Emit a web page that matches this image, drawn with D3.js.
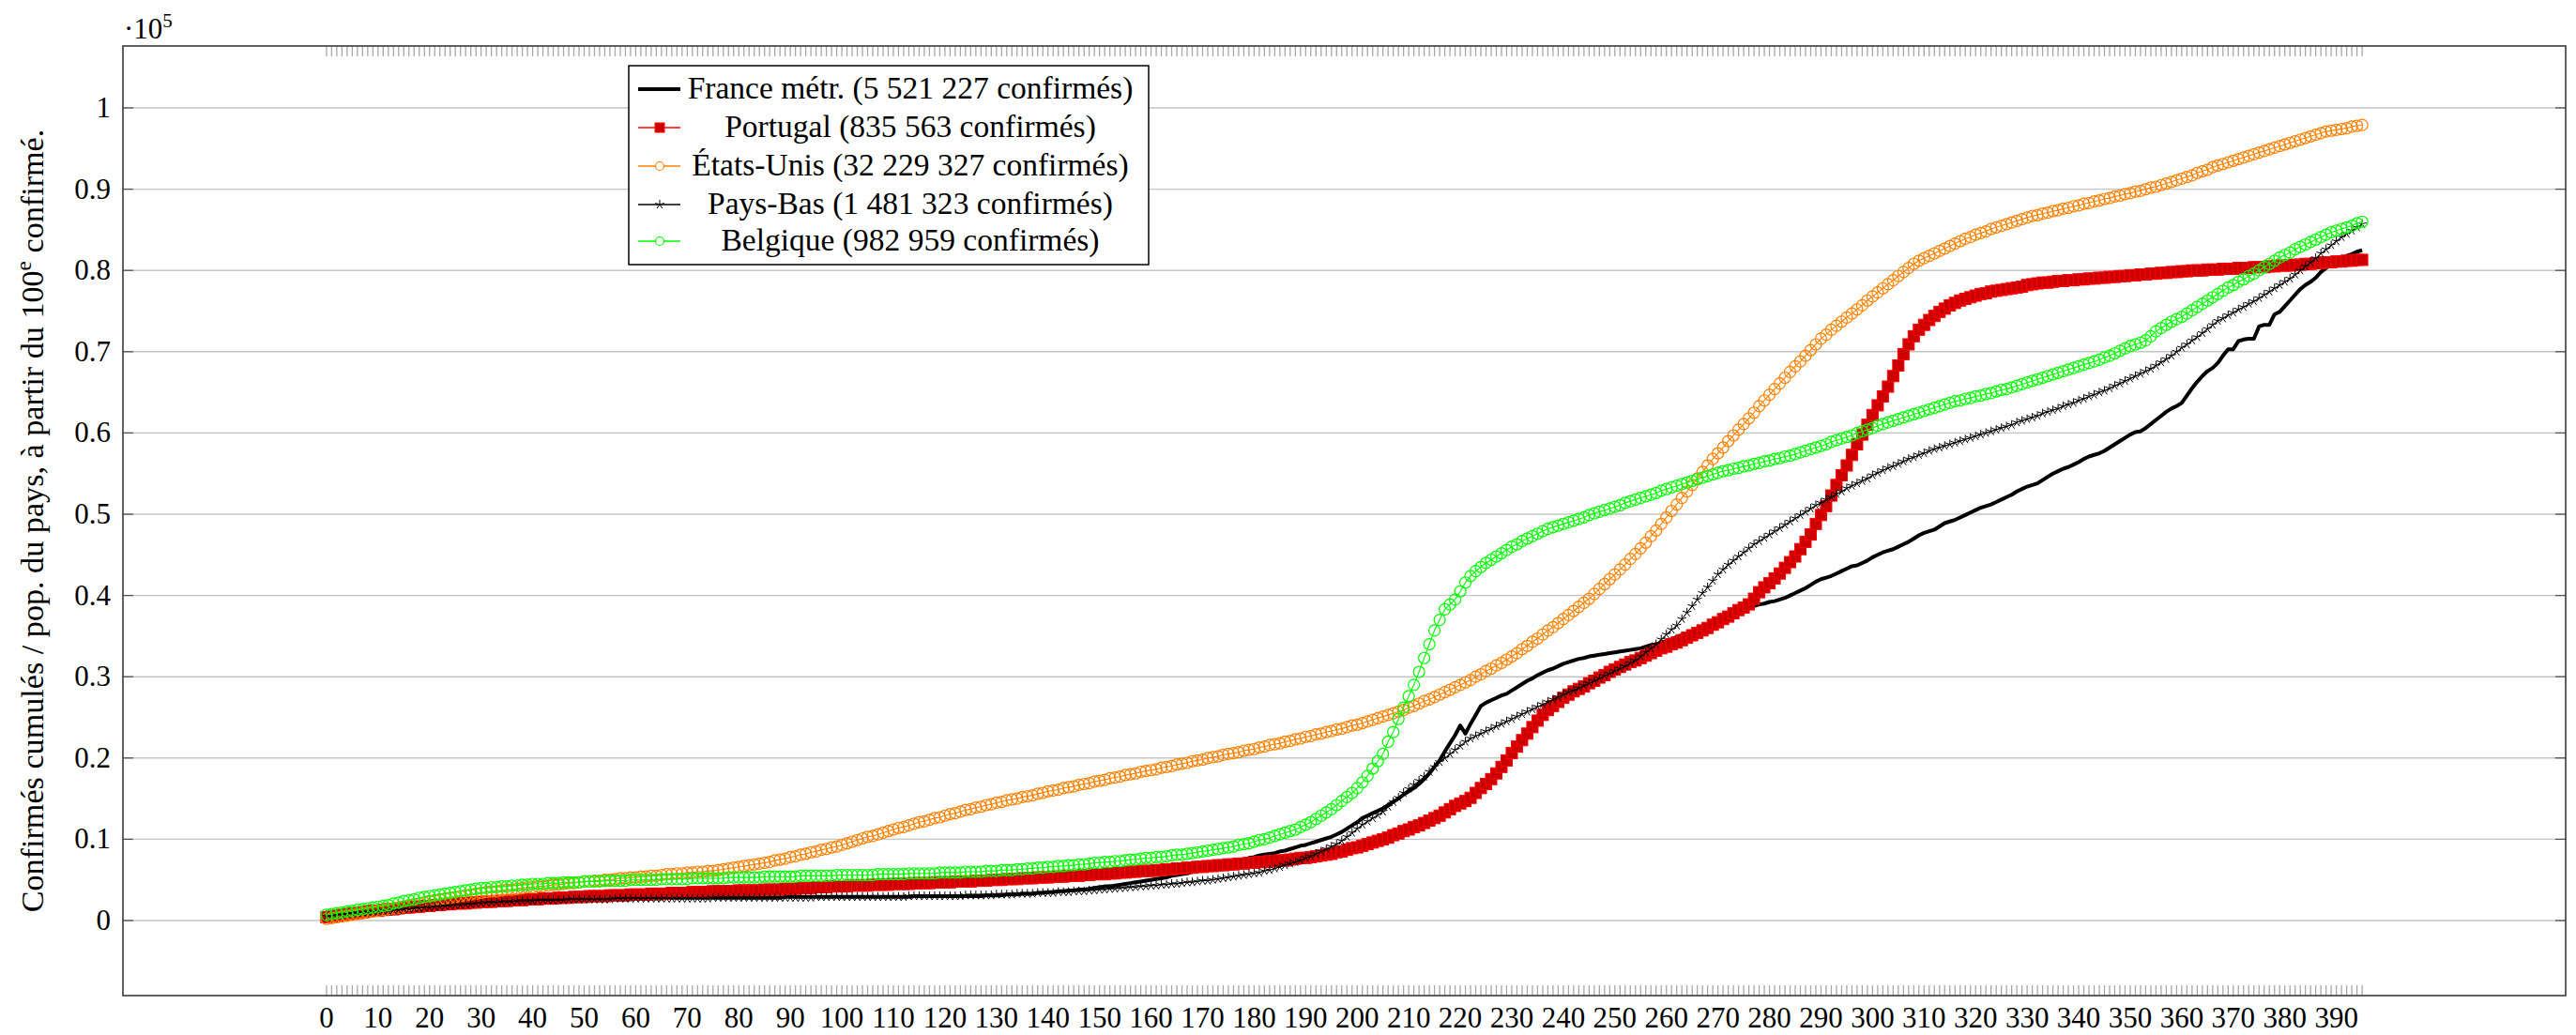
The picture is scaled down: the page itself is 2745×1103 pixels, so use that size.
<!DOCTYPE html>
<html>
<head>
<meta charset="utf-8">
<script src="https://cdn.jsdelivr.net/npm/d3@7"></script>
<style>
  html, body { margin: 0; padding: 0; background: #fff; }
  svg { display: block; }
  text { font-family: "Liberation Serif", "DejaVu Serif", serif; fill: #000; }
</style>
</head>
<body>
<svg id="chart" width="2745" height="1103"></svg>
<script>
// ---------------- DATA (values in units of 1e5, day index = array position) ----------------
const seriesNames = [
  "France métr. (5 521 227 confirmés)",
  "Portugal (835 563 confirmés)",
  "États-Unis (32 229 327 confirmés)",
  "Pays-Bas (1 481 323 confirmés)",
  "Belgique (982 959 confirmés)"
];

const xTickLabels = [0,10,20,30,40,50,60,70,80,90,100,110,120,130,140,150,160,170,180,190,200,210,220,230,240,250,260,270,280,290,300,310,320,330,340,350,360,370,380,390];
const yTickLabels = [0,0.1,0.2,0.3,0.4,0.5,0.6,0.7,0.8,0.9,1];

const france = [
0.004,0.004,0.005,0.005,0.006,0.006,0.006,0.007,0.007,0.007,
0.008,0.008,0.008,0.009,0.009,0.012,0.013,0.014,0.015,0.016,
0.017,0.017,0.018,0.018,0.019,0.019,0.020,0.020,0.021,0.021,
0.022,0.022,0.022,0.023,0.023,0.023,0.024,0.024,0.024,0.024,
0.024,0.025,0.025,0.025,0.025,0.025,0.025,0.026,0.026,0.026,
0.026,0.026,0.026,0.026,0.026,0.027,0.027,0.027,0.027,0.027,
0.027,0.027,0.027,0.027,0.027,0.027,0.028,0.028,0.028,0.028,
0.028,0.028,0.028,0.028,0.028,0.028,0.028,0.028,0.028,0.028,
0.028,0.028,0.028,0.028,0.028,0.028,0.028,0.028,0.028,0.029,
0.029,0.029,0.029,0.029,0.029,0.029,0.029,0.029,0.029,0.029,
0.029,0.029,0.029,0.029,0.029,0.029,0.029,0.029,0.029,0.029,
0.029,0.029,0.029,0.029,0.030,0.030,0.030,0.030,0.030,0.030,
0.030,0.030,0.030,0.030,0.030,0.030,0.030,0.030,0.031,0.031,
0.031,0.031,0.032,0.032,0.032,0.033,0.033,0.033,0.034,0.034,
0.035,0.035,0.036,0.036,0.037,0.037,0.038,0.038,0.039,0.040,
0.041,0.042,0.042,0.043,0.044,0.045,0.046,0.047,0.048,0.049,
0.050,0.051,0.052,0.053,0.055,0.056,0.057,0.058,0.060,0.061,
0.062,0.064,0.066,0.067,0.069,0.071,0.072,0.074,0.075,0.077,
0.078,0.080,0.081,0.082,0.083,0.085,0.086,0.088,0.090,0.092,
0.093,0.095,0.097,0.099,0.101,0.103,0.106,0.109,0.113,0.117,
0.121,0.126,0.129,0.132,0.135,0.138,0.142,0.146,0.150,0.155,
0.159,0.163,0.168,0.174,0.181,0.189,0.197,0.208,0.218,0.228,
0.240,0.230,0.242,0.253,0.264,0.268,0.271,0.274,0.277,0.279,
0.283,0.287,0.291,0.295,0.298,0.302,0.305,0.308,0.310,0.313,
0.316,0.318,0.320,0.322,0.323,0.325,0.326,0.327,0.328,0.329,
0.330,0.331,0.332,0.333,0.334,0.335,0.337,0.339,0.340,0.342,
0.344,0.346,0.349,0.351,0.353,0.355,0.356,0.358,0.360,0.363,
0.365,0.368,0.371,0.374,0.377,0.380,0.384,0.387,0.389,0.390,
0.392,0.393,0.395,0.397,0.400,0.403,0.406,0.409,0.413,0.417,
0.420,0.422,0.424,0.427,0.430,0.433,0.436,0.437,0.440,0.443,
0.447,0.450,0.453,0.455,0.457,0.460,0.463,0.466,0.470,0.474,
0.477,0.479,0.481,0.485,0.489,0.491,0.493,0.496,0.499,0.502,
0.505,0.508,0.510,0.512,0.515,0.518,0.521,0.524,0.528,0.531,
0.534,0.536,0.538,0.542,0.546,0.550,0.553,0.556,0.558,0.561,
0.564,0.568,0.571,0.573,0.575,0.578,0.582,0.586,0.590,0.594,
0.598,0.601,0.602,0.606,0.611,0.616,0.621,0.626,0.630,0.633,
0.637,0.646,0.655,0.663,0.670,0.676,0.680,0.686,0.695,0.703,
0.703,0.713,0.715,0.716,0.716,0.731,0.733,0.733,0.746,0.749,
0.756,0.763,0.770,0.777,0.782,0.786,0.791,0.798,0.803,0.808,
0.811,0.814,0.818,0.820,0.823,0.825
];

const portugal = [
0.004,0.005,0.006,0.007,0.008,0.009,0.009,0.010,0.011,0.012,
0.012,0.013,0.014,0.014,0.015,0.016,0.016,0.017,0.017,0.018,
0.018,0.019,0.019,0.020,0.020,0.021,0.021,0.021,0.022,0.022,
0.023,0.023,0.023,0.024,0.024,0.024,0.025,0.025,0.025,0.026,
0.026,0.026,0.027,0.027,0.027,0.028,0.028,0.028,0.029,0.029,
0.029,0.030,0.030,0.030,0.030,0.031,0.031,0.031,0.031,0.032,
0.032,0.032,0.032,0.033,0.033,0.033,0.033,0.034,0.034,0.034,
0.034,0.035,0.035,0.035,0.035,0.036,0.036,0.036,0.036,0.036,
0.037,0.037,0.037,0.037,0.037,0.038,0.038,0.038,0.038,0.039,
0.039,0.039,0.040,0.040,0.040,0.041,0.041,0.041,0.042,0.042,
0.042,0.042,0.043,0.043,0.043,0.043,0.044,0.044,0.044,0.044,
0.045,0.045,0.045,0.045,0.046,0.046,0.046,0.046,0.047,0.047,
0.047,0.047,0.048,0.048,0.048,0.048,0.049,0.049,0.049,0.050,
0.050,0.050,0.051,0.051,0.051,0.052,0.052,0.052,0.053,0.053,
0.053,0.054,0.054,0.054,0.055,0.055,0.055,0.056,0.056,0.057,
0.057,0.057,0.058,0.058,0.059,0.059,0.060,0.060,0.061,0.061,
0.061,0.062,0.062,0.063,0.063,0.064,0.064,0.065,0.065,0.066,
0.066,0.067,0.067,0.068,0.068,0.069,0.069,0.070,0.070,0.071,
0.071,0.072,0.072,0.073,0.073,0.074,0.074,0.075,0.076,0.077,
0.077,0.078,0.079,0.080,0.081,0.082,0.084,0.085,0.087,0.089,
0.090,0.092,0.094,0.096,0.098,0.100,0.102,0.105,0.107,0.110,
0.112,0.115,0.117,0.120,0.123,0.126,0.129,0.133,0.137,0.141,
0.144,0.147,0.151,0.157,0.163,0.168,0.174,0.181,0.189,0.197,
0.206,0.214,0.222,0.230,0.238,0.246,0.253,0.259,0.264,0.269,
0.274,0.278,0.282,0.285,0.288,0.292,0.295,0.299,0.302,0.306,
0.309,0.312,0.315,0.318,0.320,0.323,0.326,0.329,0.332,0.335,
0.337,0.340,0.342,0.345,0.348,0.351,0.354,0.357,0.360,0.364,
0.367,0.371,0.374,0.378,0.382,0.385,0.389,0.396,0.404,0.410,
0.415,0.421,0.427,0.434,0.441,0.448,0.457,0.466,0.475,0.488,
0.499,0.510,0.523,0.536,0.548,0.560,0.573,0.586,0.598,0.610,
0.622,0.634,0.645,0.657,0.670,0.683,0.697,0.709,0.719,0.727,
0.733,0.739,0.744,0.749,0.753,0.757,0.760,0.763,0.765,0.767,
0.769,0.771,0.772,0.774,0.775,0.776,0.777,0.778,0.779,0.780,
0.782,0.783,0.784,0.785,0.785,0.786,0.787,0.787,0.788,0.788,
0.789,0.789,0.790,0.790,0.791,0.791,0.792,0.792,0.793,0.793,
0.794,0.794,0.795,0.795,0.796,0.796,0.797,0.797,0.798,0.798,
0.799,0.799,0.800,0.800,0.800,0.801,0.801,0.801,0.802,0.802,
0.802,0.803,0.803,0.803,0.804,0.804,0.804,0.805,0.805,0.806,
0.806,0.806,0.807,0.807,0.808,0.808,0.809,0.809,0.810,0.810,
0.811,0.811,0.812,0.812,0.813,0.813
];

const etatsUnis = [
0.002,0.003,0.004,0.005,0.006,0.007,0.008,0.009,0.010,0.011,
0.012,0.013,0.014,0.015,0.016,0.017,0.019,0.020,0.021,0.022,
0.024,0.025,0.026,0.027,0.028,0.029,0.030,0.031,0.032,0.033,
0.034,0.035,0.036,0.036,0.037,0.038,0.038,0.039,0.040,0.041,
0.041,0.042,0.042,0.043,0.044,0.044,0.045,0.046,0.046,0.047,
0.048,0.048,0.049,0.049,0.050,0.050,0.051,0.052,0.052,0.053,
0.053,0.054,0.054,0.055,0.055,0.056,0.057,0.057,0.058,0.058,
0.059,0.059,0.060,0.060,0.061,0.061,0.062,0.063,0.064,0.065,
0.066,0.067,0.068,0.069,0.070,0.071,0.072,0.074,0.075,0.076,
0.078,0.079,0.081,0.082,0.084,0.085,0.087,0.088,0.090,0.091,
0.093,0.095,0.097,0.099,0.101,0.103,0.104,0.106,0.108,0.110,
0.112,0.114,0.115,0.117,0.119,0.121,0.122,0.124,0.126,0.127,
0.129,0.131,0.132,0.134,0.136,0.137,0.139,0.140,0.142,0.143,
0.145,0.146,0.148,0.149,0.150,0.152,0.153,0.154,0.156,0.157,
0.159,0.160,0.161,0.163,0.164,0.165,0.167,0.168,0.169,0.171,
0.172,0.173,0.175,0.176,0.177,0.179,0.180,0.181,0.183,0.184,
0.185,0.186,0.188,0.189,0.190,0.192,0.193,0.194,0.196,0.197,
0.198,0.200,0.201,0.202,0.204,0.205,0.206,0.207,0.209,0.210,
0.211,0.213,0.214,0.216,0.217,0.218,0.220,0.221,0.223,0.224,
0.226,0.227,0.229,0.230,0.232,0.233,0.235,0.236,0.238,0.240,
0.241,0.243,0.245,0.247,0.249,0.251,0.253,0.255,0.257,0.259,
0.262,0.264,0.267,0.270,0.272,0.275,0.278,0.281,0.284,0.287,
0.290,0.293,0.296,0.300,0.303,0.307,0.310,0.314,0.317,0.321,
0.325,0.329,0.334,0.338,0.343,0.347,0.352,0.357,0.361,0.366,
0.371,0.376,0.381,0.386,0.391,0.396,0.402,0.408,0.414,0.420,
0.426,0.432,0.438,0.445,0.451,0.458,0.465,0.473,0.480,0.488,
0.496,0.504,0.512,0.520,0.528,0.536,0.544,0.552,0.560,0.568,
0.575,0.582,0.590,0.597,0.604,0.611,0.618,0.625,0.633,0.640,
0.647,0.654,0.661,0.668,0.675,0.682,0.688,0.695,0.702,0.709,
0.716,0.721,0.727,0.732,0.737,0.742,0.747,0.752,0.757,0.763,
0.768,0.773,0.778,0.783,0.788,0.793,0.798,0.803,0.808,0.812,
0.815,0.818,0.821,0.824,0.827,0.830,0.833,0.836,0.839,0.841,
0.844,0.846,0.848,0.851,0.853,0.855,0.857,0.859,0.861,0.863,
0.865,0.867,0.868,0.870,0.871,0.873,0.874,0.876,0.877,0.879,
0.880,0.882,0.883,0.885,0.886,0.888,0.889,0.891,0.892,0.894,
0.895,0.897,0.898,0.900,0.902,0.903,0.905,0.907,0.909,0.911,
0.913,0.915,0.917,0.920,0.922,0.924,0.927,0.929,0.931,0.933,
0.935,0.937,0.939,0.941,0.943,0.945,0.947,0.949,0.951,0.953,
0.955,0.957,0.959,0.961,0.963,0.965,0.967,0.969,0.971,0.972,
0.973,0.974,0.975,0.977,0.978,0.979
];

const paysBas = [
0.005,0.006,0.007,0.007,0.008,0.009,0.009,0.010,0.010,0.011,
0.011,0.012,0.012,0.013,0.013,0.014,0.014,0.015,0.015,0.016,
0.016,0.017,0.017,0.018,0.018,0.019,0.019,0.020,0.020,0.021,
0.021,0.022,0.022,0.022,0.023,0.023,0.023,0.024,0.024,0.024,
0.024,0.025,0.025,0.025,0.025,0.025,0.025,0.026,0.026,0.026,
0.026,0.026,0.026,0.026,0.026,0.026,0.027,0.027,0.027,0.027,
0.027,0.027,0.027,0.027,0.027,0.027,0.027,0.027,0.027,0.027,
0.027,0.027,0.027,0.027,0.027,0.028,0.028,0.028,0.028,0.028,
0.028,0.028,0.028,0.028,0.028,0.028,0.028,0.028,0.028,0.028,
0.028,0.028,0.028,0.028,0.028,0.029,0.029,0.029,0.029,0.029,
0.029,0.029,0.029,0.029,0.029,0.029,0.029,0.029,0.029,0.029,
0.029,0.029,0.029,0.030,0.030,0.030,0.030,0.030,0.030,0.030,
0.030,0.030,0.030,0.030,0.031,0.031,0.031,0.031,0.031,0.031,
0.032,0.032,0.032,0.032,0.033,0.033,0.033,0.033,0.034,0.034,
0.034,0.034,0.035,0.035,0.035,0.036,0.036,0.036,0.037,0.037,
0.038,0.038,0.039,0.039,0.040,0.040,0.041,0.041,0.042,0.042,
0.043,0.043,0.044,0.044,0.045,0.045,0.046,0.047,0.047,0.048,
0.049,0.049,0.050,0.051,0.052,0.053,0.054,0.055,0.056,0.057,
0.058,0.059,0.061,0.062,0.064,0.066,0.068,0.070,0.072,0.074,
0.077,0.079,0.082,0.085,0.088,0.091,0.094,0.098,0.103,0.108,
0.113,0.118,0.122,0.126,0.130,0.134,0.140,0.146,0.151,0.157,
0.162,0.167,0.172,0.177,0.183,0.189,0.195,0.200,0.205,0.210,
0.215,0.220,0.224,0.227,0.230,0.233,0.236,0.239,0.242,0.245,
0.248,0.251,0.254,0.257,0.260,0.263,0.266,0.269,0.272,0.275,
0.278,0.281,0.283,0.286,0.289,0.292,0.295,0.298,0.301,0.304,
0.307,0.310,0.313,0.317,0.320,0.325,0.330,0.335,0.340,0.346,
0.352,0.358,0.363,0.371,0.379,0.387,0.395,0.403,0.410,0.418,
0.426,0.432,0.438,0.443,0.448,0.453,0.458,0.463,0.467,0.471,
0.475,0.479,0.483,0.487,0.491,0.495,0.499,0.503,0.507,0.511,
0.514,0.518,0.521,0.525,0.528,0.532,0.535,0.538,0.541,0.544,
0.548,0.551,0.554,0.557,0.559,0.562,0.565,0.568,0.570,0.573,
0.575,0.578,0.580,0.582,0.584,0.586,0.588,0.590,0.592,0.594,
0.596,0.598,0.600,0.602,0.604,0.606,0.608,0.610,0.613,0.615,
0.617,0.619,0.621,0.624,0.626,0.628,0.630,0.633,0.635,0.637,
0.640,0.642,0.645,0.647,0.650,0.652,0.655,0.658,0.661,0.664,
0.667,0.670,0.673,0.676,0.679,0.683,0.687,0.691,0.695,0.700,
0.705,0.709,0.714,0.718,0.723,0.728,0.733,0.738,0.741,0.745,
0.748,0.752,0.755,0.759,0.762,0.766,0.770,0.774,0.778,0.782,
0.786,0.790,0.795,0.800,0.805,0.810,0.815,0.821,0.826,0.831,
0.836,0.841,0.845,0.849,0.853,0.857
];

const belgique = [
0.007,0.008,0.009,0.010,0.011,0.012,0.013,0.014,0.015,0.016,
0.017,0.018,0.019,0.021,0.022,0.024,0.025,0.026,0.028,0.029,
0.030,0.031,0.032,0.033,0.034,0.035,0.036,0.037,0.038,0.039,
0.040,0.040,0.041,0.041,0.042,0.042,0.043,0.043,0.044,0.044,
0.045,0.045,0.045,0.046,0.046,0.046,0.047,0.047,0.047,0.047,
0.048,0.048,0.048,0.048,0.049,0.049,0.049,0.049,0.049,0.050,
0.050,0.050,0.050,0.050,0.050,0.051,0.051,0.051,0.051,0.051,
0.051,0.052,0.052,0.052,0.052,0.052,0.052,0.052,0.053,0.053,
0.053,0.053,0.053,0.053,0.053,0.054,0.054,0.054,0.054,0.054,
0.054,0.054,0.055,0.055,0.055,0.055,0.055,0.055,0.055,0.056,
0.056,0.056,0.056,0.056,0.056,0.056,0.056,0.057,0.057,0.057,
0.057,0.057,0.057,0.058,0.058,0.058,0.058,0.058,0.058,0.059,
0.059,0.059,0.059,0.059,0.060,0.060,0.060,0.060,0.061,0.061,
0.061,0.062,0.062,0.062,0.063,0.063,0.064,0.064,0.065,0.065,
0.066,0.066,0.067,0.067,0.068,0.068,0.069,0.069,0.070,0.071,
0.071,0.072,0.072,0.073,0.073,0.074,0.075,0.075,0.076,0.077,
0.077,0.078,0.078,0.079,0.080,0.081,0.081,0.082,0.083,0.084,
0.085,0.086,0.087,0.088,0.089,0.090,0.091,0.093,0.094,0.095,
0.097,0.099,0.100,0.102,0.104,0.106,0.108,0.110,0.112,0.115,
0.118,0.121,0.125,0.129,0.133,0.137,0.142,0.147,0.152,0.157,
0.163,0.170,0.178,0.187,0.196,0.205,0.220,0.232,0.248,0.262,
0.276,0.290,0.306,0.323,0.340,0.357,0.370,0.383,0.389,0.395,
0.405,0.416,0.424,0.430,0.435,0.440,0.444,0.448,0.452,0.456,
0.460,0.463,0.467,0.470,0.473,0.476,0.479,0.482,0.484,0.486,
0.488,0.490,0.492,0.494,0.496,0.499,0.501,0.503,0.505,0.507,
0.509,0.511,0.514,0.516,0.518,0.520,0.522,0.524,0.526,0.529,
0.531,0.533,0.535,0.537,0.539,0.541,0.543,0.545,0.547,0.549,
0.551,0.553,0.554,0.556,0.557,0.559,0.560,0.562,0.563,0.565,
0.566,0.568,0.569,0.571,0.572,0.574,0.576,0.578,0.580,0.582,
0.584,0.586,0.589,0.591,0.593,0.595,0.597,0.600,0.602,0.604,
0.606,0.609,0.611,0.613,0.615,0.617,0.619,0.621,0.623,0.625,
0.627,0.629,0.631,0.633,0.635,0.637,0.639,0.640,0.642,0.643,
0.645,0.646,0.648,0.649,0.651,0.653,0.654,0.656,0.658,0.660,
0.662,0.664,0.666,0.668,0.670,0.672,0.674,0.676,0.678,0.680,
0.682,0.684,0.686,0.688,0.690,0.693,0.695,0.698,0.701,0.704,
0.707,0.709,0.711,0.714,0.719,0.725,0.729,0.733,0.737,0.740,
0.743,0.747,0.751,0.755,0.759,0.763,0.767,0.771,0.775,0.779,
0.782,0.786,0.789,0.793,0.796,0.800,0.804,0.808,0.812,0.816,
0.819,0.822,0.826,0.829,0.832,0.835,0.838,0.841,0.844,0.847,
0.849,0.851,0.853,0.855,0.858,0.860
];

// ---------------- LAYOUT ----------------
const W = 2745, H = 1103;
const plot = { left: 131, right: 2734, top: 49, bottom: 1061 };
const nDays = etatsUnis.length;

const x = d3.scaleLinear().domain([-39.5, (nDays - 1) + 39.5]).range([plot.left, plot.right]);
const y = d3.scaleLinear().domain([-0.0924, 1.0762]).range([plot.bottom, plot.top]);

const svg = d3.select("#chart");
svg.append("rect").attr("width", W).attr("height", H).attr("fill", "#fff");

// Grid
const gGrid = svg.append("g");
gGrid.selectAll("line").data(yTickLabels).join("line")
  .attr("x1", plot.left).attr("x2", plot.right)
  .attr("y1", d => y(d)).attr("y2", d => y(d))
  .attr("stroke", "#c4c4c4").attr("stroke-width", 1.4);

// minor x ticks (every day) top and bottom
const dayIdx = d3.range(nDays);
const gTicks = svg.append("g").attr("stroke", "#a8a8a8").attr("stroke-width", 1.3);
gTicks.selectAll("line.b").data(dayIdx).join("line").attr("class", "b")
  .attr("x1", d => x(d)).attr("x2", d => x(d))
  .attr("y1", plot.bottom).attr("y2", plot.bottom - 11);
gTicks.selectAll("line.t").data(dayIdx).join("line").attr("class", "t")
  .attr("x1", d => x(d)).attr("x2", d => x(d))
  .attr("y1", plot.top).attr("y2", plot.top + 11);

// y ticks left/right
const gYT = svg.append("g").attr("stroke", "#555").attr("stroke-width", 1.3);
gYT.selectAll("line.l").data(yTickLabels).join("line").attr("class", "l")
  .attr("x1", plot.left).attr("x2", plot.left + 11)
  .attr("y1", d => y(d)).attr("y2", d => y(d));
gYT.selectAll("line.r").data(yTickLabels).join("line").attr("class", "r")
  .attr("x1", plot.right).attr("x2", plot.right - 11)
  .attr("y1", d => y(d)).attr("y2", d => y(d));

// Series
const seriesData = [france, portugal, etatsUnis, paysBas, belgique];
const styles = [
  { color: "#000", width: 4, mark: "none" },
  { color: "#ff0000", width: 1.3, mark: "square", fill: "#cc0000" },
  { color: "#ff8000", width: 1.1, mark: "circle" },
  { color: "#000", width: 1.0, mark: "star" },
  { color: "#00ff00", width: 1.1, mark: "circle" }
];

const line = d3.line().x((d, i) => x(i)).y(d => y(d));
const starPath = (r) => {
  let p = "";
  for (let k = 0; k < 5; k++) {
    const a = -Math.PI / 2 + k * 2 * Math.PI / 5;
    p += `M0,0L${(r * Math.cos(a)).toFixed(2)},${(r * Math.sin(a)).toFixed(2)}`;
  }
  return p;
};

const SQ = 12, CR = 6;
function drawMarks(g, data, st) {
  if (st.mark === "square") {
    g.selectAll("rect").data(data).join("rect")
      .attr("x", (d, i) => x(i) - SQ / 2).attr("y", d => y(d) - SQ / 2)
      .attr("width", SQ).attr("height", SQ)
      .attr("fill", st.fill).attr("stroke", st.color).attr("stroke-width", 1);
  } else if (st.mark === "circle") {
    g.selectAll("circle").data(data).join("circle")
      .attr("cx", (d, i) => x(i)).attr("cy", d => y(d)).attr("r", CR)
      .attr("fill", "none").attr("stroke", st.color).attr("stroke-width", 1.2);
  } else if (st.mark === "star") {
    g.selectAll("path").data(data).join("path")
      .attr("transform", (d, i) => `translate(${x(i)},${y(d)})`)
      .attr("d", starPath(5))
      .attr("fill", "none").attr("stroke", st.color).attr("stroke-width", 1);
  }
}

seriesData.forEach((data, k) => {
  const st = styles[k];
  const g = svg.append("g");
  g.append("path").datum(data).attr("d", line)
    .attr("fill", "none").attr("stroke", st.color).attr("stroke-width", st.width)
    .attr("stroke-linejoin", "round");
  const gm = g.append("g");
  drawMarks(gm, data, st);
});

// Frame
svg.append("rect")
  .attr("x", plot.left).attr("y", plot.top)
  .attr("width", plot.right - plot.left).attr("height", plot.bottom - plot.top)
  .attr("fill", "none").attr("stroke", "#3a3a3a").attr("stroke-width", 1.6);

// Tick labels
const fs = 31;
svg.append("g").selectAll("text").data(yTickLabels).join("text")
  .attr("x", 118).attr("y", d => y(d) + 10)
  .attr("text-anchor", "end").attr("font-size", fs)
  .text(d => d === 0 ? "0" : d === 1 ? "1" : d.toFixed(1));

svg.append("g").selectAll("text").data(xTickLabels).join("text")
  .attr("x", d => x(d)).attr("y", 1095)
  .attr("text-anchor", "middle").attr("font-size", fs)
  .text(d => d);

// ·10^5
const sc = svg.append("text").attr("x", 132).attr("y", 41).attr("font-size", fs);
sc.append("tspan").text("·10");
sc.append("tspan").attr("font-size", 21).attr("dy", -12).text("5");

// Y label
const yl = svg.append("text")
  .attr("transform", `translate(46,${(plot.top + plot.bottom) / 2}) rotate(-90)`)
  .attr("text-anchor", "middle").attr("font-size", 30);
yl.append("tspan").text("Confirmés cumulés / pop. du pays, à partir du 100");
yl.append("tspan").attr("font-size", 20).attr("dy", -11).text("e");
yl.append("tspan").attr("dy", 11).text(" confirmé.");
{
  const len = yl.node().getComputedTextLength();
  const target = 835;
  const f = 30 * target / len;
  yl.attr("font-size", f);
  yl.selectAll("tspan").filter((d, i) => i === 1).attr("font-size", f * 0.68).attr("dy", -f * 0.37);
  yl.selectAll("tspan").filter((d, i) => i === 2).attr("dy", f * 0.37);
}

// Legend
const leg = { x: 670, y: 70, w: 554, h: 212 };
const legG = svg.append("g");
legG.append("rect").attr("x", leg.x).attr("y", leg.y).attr("width", leg.w).attr("height", leg.h)
  .attr("fill", "#fff").attr("stroke", "#000").attr("stroke-width", 1.5);
const rowY = [95, 136, 177, 218, 257];
const legTexts = [];
seriesNames.forEach((name, k) => {
  const st = styles[k];
  const cy = rowY[k];
  legG.append("line").attr("x1", 680).attr("x2", 725).attr("y1", cy).attr("y2", cy)
    .attr("stroke", st.color).attr("stroke-width", k === 0 ? 4 : st.width + 0.3);
  const gm = legG.append("g");
  if (st.mark === "square") {
    gm.append("rect").attr("x", 698).attr("y", cy - 5).attr("width", 10).attr("height", 10)
      .attr("fill", st.fill).attr("stroke", st.color).attr("stroke-width", 1);
  } else if (st.mark === "circle") {
    gm.append("circle").attr("cx", 703).attr("cy", cy).attr("r", 4.5)
      .attr("fill", "#fff").attr("stroke", st.color).attr("stroke-width", 1.2);
  } else if (st.mark === "star") {
    gm.append("path").attr("transform", `translate(703,${cy})`).attr("d", starPath(5))
      .attr("fill", "none").attr("stroke", st.color).attr("stroke-width", 1);
  }
  const t = legG.append("text").attr("x", 970).attr("y", cy + 10)
    .attr("text-anchor", "middle").attr("font-size", 30).text(name);
  legTexts.push(t);
});
{
  const len = legTexts[0].node().getComputedTextLength();
  const f = 30 * 475 / len;
  legTexts.forEach(t => t.attr("font-size", f));
}
</script>
</body>
</html>
